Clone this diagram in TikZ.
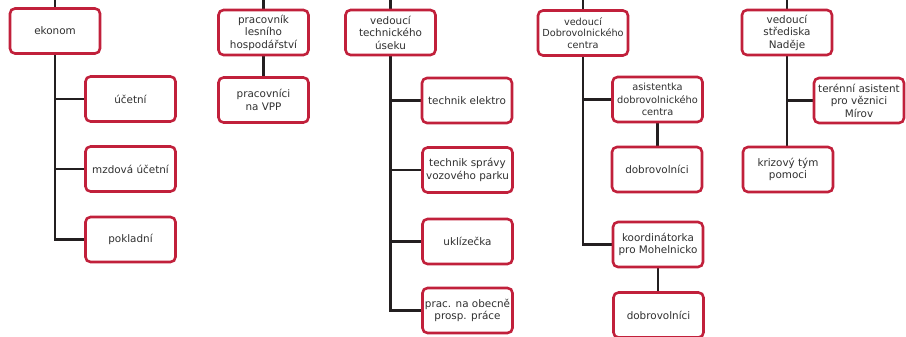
\documentclass[tikz,border=0pt]{standalone}
\usepackage{fontspec}
\setmainfont{DejaVu Sans}
\usetikzlibrary{backgrounds}
\definecolor{boxred}{HTML}{C1203B}
\definecolor{linedark}{HTML}{231F20}
\definecolor{txt}{HTML}{303030}
\tikzset{
  box/.style={draw=boxred, line width=2.6pt, rounded corners=5pt, fill=white,
    minimum width=90pt, minimum height=45pt, inner sep=1pt, align=center,
    text=txt, font=\fontsize{10.4}{12.5}\selectfont},
  conn/.style={draw=linedark, line width=2.9pt},
}
\begin{document}
\begin{tikzpicture}[x=1pt,y=-1pt]
\useasboundingbox (0,0) rectangle (906,337);
% column 1
\node[box] (ekonom) at (55,31) {ekonom};
\node[box] (ucetni) at (130.5,99) {účetní};
\node[box] (mzdova) at (130.5,169) {mzdová účetní};
\node[box] (pokladni) at (130.5,239.5) {pokladní};
% column 2
\node[box] (pracovnik) at (263.5,32.5) {pracovník\\lesního\\hospodářství};
\node[box] (pracovnici) at (263.5,100) {pracovníci\\na VPP};
% column 3
\node[box] (vedtech) at (390.5,32.5) {vedoucí\\technického\\úseku};
\node[box] (elektro) at (467,100.5) {technik elektro};
\node[box] (spravy) at (467.5,170) {technik správy\\vozového parku};
\node[box] (uklizecka) at (467.5,241.5) {uklízečka};
\node[box] (prac) at (467.5,310.5) {prac. na obecně\\prosp. práce};
% column 4
\node[box, font=\fontsize{9.7}{11.8}\selectfont] (veddobr) at (583,33) {vedoucí\\Dobrovolnického\\centra};
\node[box, font=\fontsize{9.8}{12.8}\selectfont] (asist) at (657.5,99.5) {asistentka\\dobrovolnického\\centra};
\node[box] (dobr1) at (657,169.5) {dobrovolníci};
\node[box] (koord) at (658,244.5) {koordinátorka\\pro Mohelnicko};
\node[box] (dobr2) at (658.5,315) {dobrovolníci};
% column 5
\node[box] (vedstr) at (787,32.5) {vedoucí\\střediska\\Naděje};
\node[box] (terenni) at (859,100.5) {terénní asistent\\pro věznici\\Mírov};
\node[box] (krizovy) at (788,169.5) {krizový tým\\pomoci};
% top stubs
\coordinate (t1) at (55,-5);
\coordinate (t2) at (263.5,-5);
\coordinate (t3) at (390.5,-5);
\coordinate (t4) at (583,-5);
\coordinate (t5) at (787,-5);
\begin{scope}[on background layer]
\draw[conn] (t1) -- (ekonom.north);
\draw[conn] (t2) -- (pracovnik.north);
\draw[conn] (t3) -- (vedtech.north);
\draw[conn] (t4) -- (veddobr.north);
\draw[conn] (t5) -- (vedstr.north);
% column 1
\draw[conn] (ekonom.south) -- (ekonom.south |- pokladni.west) -- (pokladni.west);
\draw[conn] (ekonom.south |- ucetni.west) -- (ucetni.west);
\draw[conn] (ekonom.south |- mzdova.west) -- (mzdova.west);
% column 2
\draw[conn] (pracovnik.south) -- (pracovnici.north -| pracovnik.south);
% column 3
\draw[conn] (vedtech.south) -- (vedtech.south |- prac.west) -- (prac.west);
\draw[conn] (vedtech.south |- elektro.west) -- (elektro.west);
\draw[conn] (vedtech.south |- spravy.west) -- (spravy.west);
\draw[conn] (vedtech.south |- uklizecka.west) -- (uklizecka.west);
% column 4
\draw[conn] (veddobr.south) -- (veddobr.south |- koord.west) -- (koord.west);
\draw[conn] (veddobr.south |- asist.west) -- (asist.west);
\draw[conn] (asist.south) -- (asist.south |- dobr1.north);
\draw[conn] (koord.south) -- (koord.south |- dobr2.north);
% column 5
\draw[conn] (vedstr.south) -- (vedstr.south |- krizovy.north);
\draw[conn] (vedstr.south |- terenni.west) -- (terenni.west);
\end{scope}
\end{tikzpicture}
\end{document}
